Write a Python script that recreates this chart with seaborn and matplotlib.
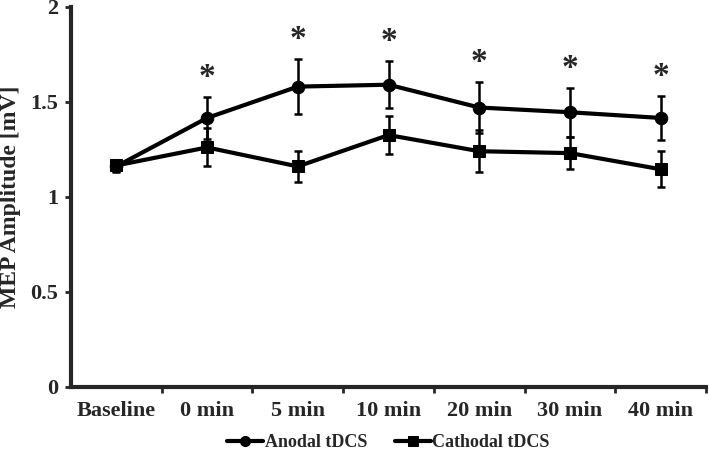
import numpy as np
import pandas as pd
import seaborn as sns
import matplotlib
matplotlib.use("Agg")
import matplotlib.pyplot as plt

# values
timepoints = ['Baseline', '0 min', '5 min', '10 min', '20 min', '30 min', '40 min']
anodal_mean = [1.16, 1.415, 1.58, 1.59, 1.47, 1.445, 1.415]
anodal_err = [0.03, 0.11, 0.145, 0.125, 0.135, 0.13, 0.115]
cathodal_mean = [1.165, 1.26, 1.16, 1.325, 1.24, 1.23, 1.145]
cathodal_err = [0.03, 0.10, 0.08, 0.10, 0.11, 0.085, 0.095]
significant = [False, True, True, True, True, True, True]

sns.set_style("ticks")
plt.rcParams['font.family'] = ['Liberation Serif', 'DejaVu Serif']
plt.rcParams['font.weight'] = 'bold'

df = pd.DataFrame({
    'time': timepoints * 2,
    'x': list(range(len(timepoints))) * 2,
    'amp': anodal_mean + cathodal_mean,
    'group': ['Anodal tDCS'] * len(timepoints) + ['Cathodal tDCS'] * len(timepoints),
})

fig, ax = plt.subplots(figsize=(7.09, 4.53), dpi=100)
fig.subplots_adjust(left=0.100, right=0.996, bottom=0.146, top=0.985)

x = np.arange(len(timepoints))
ax.errorbar(x, cathodal_mean, yerr=cathodal_err, fmt='none', ecolor='black',
            elinewidth=1.8, capsize=3, capthick=1.8, zorder=2)
ax.errorbar(x, anodal_mean, yerr=anodal_err, fmt='none', ecolor='black',
            elinewidth=1.8, capsize=3, capthick=1.8, zorder=2)

sns.lineplot(data=df, x='x', y='amp', hue='group', style='group',
             markers={'Anodal tDCS': 'o', 'Cathodal tDCS': 's'}, dashes=False,
             palette={'Anodal tDCS': 'black', 'Cathodal tDCS': 'black'},
             linewidth=3, markersize=9, markeredgecolor='black', ax=ax, zorder=3)

# significance stars above anodal error bars
for i in range(len(timepoints)):
    if significant[i]:
        ax.text(x[i], anodal_mean[i] + anodal_err[i] + 0.02, '*', ha='center',
                va='bottom', fontsize=24, fontweight='bold')

ax.set_xlim(-0.5, len(timepoints) - 0.5)
ax.set_ylim(0, 2)
ax.set_yticks([0, 0.5, 1, 1.5, 2])
ax.set_yticklabels(['0', '0.5', '1', '1.5', '2'])
ax.set_xticks(x)
ax.set_xticklabels(timepoints)
ax.set_xticks(np.arange(len(timepoints)) + 0.5, minor=True)
ax.tick_params(axis='x', which='major', length=0, pad=10, labelsize=16)
ax.tick_params(axis='x', which='minor', length=4, width=2)
ax.tick_params(axis='y', length=4, width=2, labelsize=16, pad=5)
for lbl in ax.get_xticklabels() + ax.get_yticklabels():
    lbl.set_fontweight('bold')

ax.set_xlabel('')
ax.set_ylabel('MEP Amplitude [mV]', fontsize=17, fontweight='bold')
ax.yaxis.set_label_coords(-0.079, 0.5)
sns.despine(ax=ax)
ax.spines['left'].set_linewidth(3)
ax.spines['bottom'].set_linewidth(3)

handles, labels = ax.get_legend_handles_labels()
ax.legend(handles, labels, loc='center', bbox_to_anchor=(0.5, -0.146),
          ncol=2, frameon=False, handlelength=2.0, handletextpad=0.1,
          columnspacing=1.5, prop={'size': 13, 'weight': 'bold'}, markerscale=0.8)

fig.savefig('out.png', dpi=100)
